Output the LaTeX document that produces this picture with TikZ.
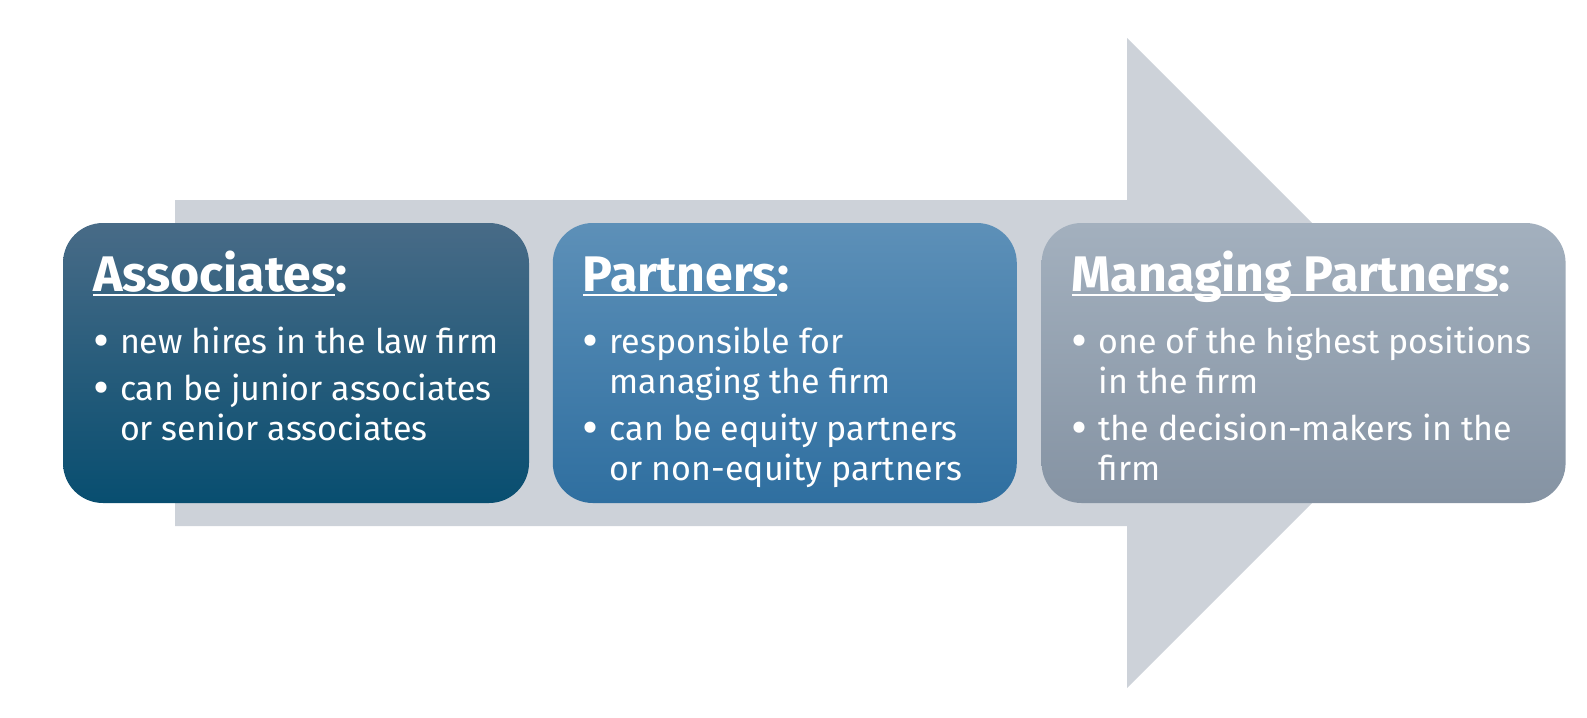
\documentclass[tikz,border=0pt]{standalone}
\usepackage{fontspec}
\usepackage{graphicx}
\setmainfont{Fira Sans}
\usetikzlibrary{positioning}

\definecolor{arrowgrey}{RGB}{205,210,217}
\definecolor{assoctop}{RGB}{72,107,135}
\definecolor{assocbot}{RGB}{8,78,112}
\definecolor{partnertop}{RGB}{93,144,184}
\definecolor{partnerbot}{RGB}{47,111,160}
\definecolor{mgmttop}{RGB}{163,176,190}
\definecolor{mgmtbot}{RGB}{133,147,163}

\newsavebox{\titlebox}
\newcommand{\heading}[1]{\sbox{\titlebox}{#1}\rlap{\rule[-2.2pt]{\wd\titlebox}{1.1pt}}\usebox{\titlebox}}
\newcommand{\bul}{\rule{0pt}{14pt}\makebox[13.5pt][l]{\raisebox{-2pt}{\scalebox{1.45}{\textbullet}}}}
\newcommand{\indnt}{\hspace*{13.5pt}}

\begin{document}
\begin{tikzpicture}[x=0.5pt, y=-0.5pt,
    stage/.style={rounded corners=20pt, minimum height=140pt, inner sep=0pt},
    titletext/.style={anchor=base west, inner sep=0pt, text=white, font=\fontsize{25}{28}\selectfont\bfseries},
    bullettext/.style={anchor=north west, inner sep=0pt, text=white, align=left, font=\fontsize{17}{20}\selectfont}]
    \useasboundingbox (0,0) rectangle (1587,718);

    % big background arrow
    \fill[arrowgrey] (175,200) -- (1127,200) -- (1127,38) -- (1452,363) -- (1127,688) -- (1127,526) -- (175,526) -- cycle;

    % the three stages
    \node (assoc) at (296,363) [stage, minimum width=233pt, top color=assoctop, bottom color=assocbot] {};
    \node (partner) [stage, right=11.5pt of assoc, minimum width=232pt, top color=partnertop, bottom color=partnerbot] {};
    \node (mgmt) [stage, right=12pt of partner, minimum width=262pt, top color=mgmttop, bottom color=mgmtbot] {};

    \node (assoctitle) at ([shift={(30,69)}]assoc.north west) [titletext] {\heading{Associates}:};
    \node (partnertitle) at ([shift={(30,69)}]partner.north west) [titletext] {\heading{Partners}:};
    \node (mgmttitle) at ([shift={(30,69)}]mgmt.north west) [titletext] {\heading{Managing Partners}:};

    \node (assoclist) at ([shift={(30,102)}]assoc.north west) [bullettext]
        {\bul new hires in the law firm\\[3.5pt] \bul can be junior associates\\ \indnt or senior associates};
    \node (partnerlist) at ([shift={(30,102)}]partner.north west) [bullettext]
        {\bul responsible for\\ \indnt managing the firm\\[3.5pt] \bul can be equity partners\\ \indnt or non-equity partners};
    \node (mgmtlist) at ([shift={(30,102)}]mgmt.north west) [bullettext]
        {\bul one of the highest positions\\ \indnt in the firm\\[3.5pt] \bul the decision-makers in the\\ \indnt firm};
\end{tikzpicture}
\end{document}
